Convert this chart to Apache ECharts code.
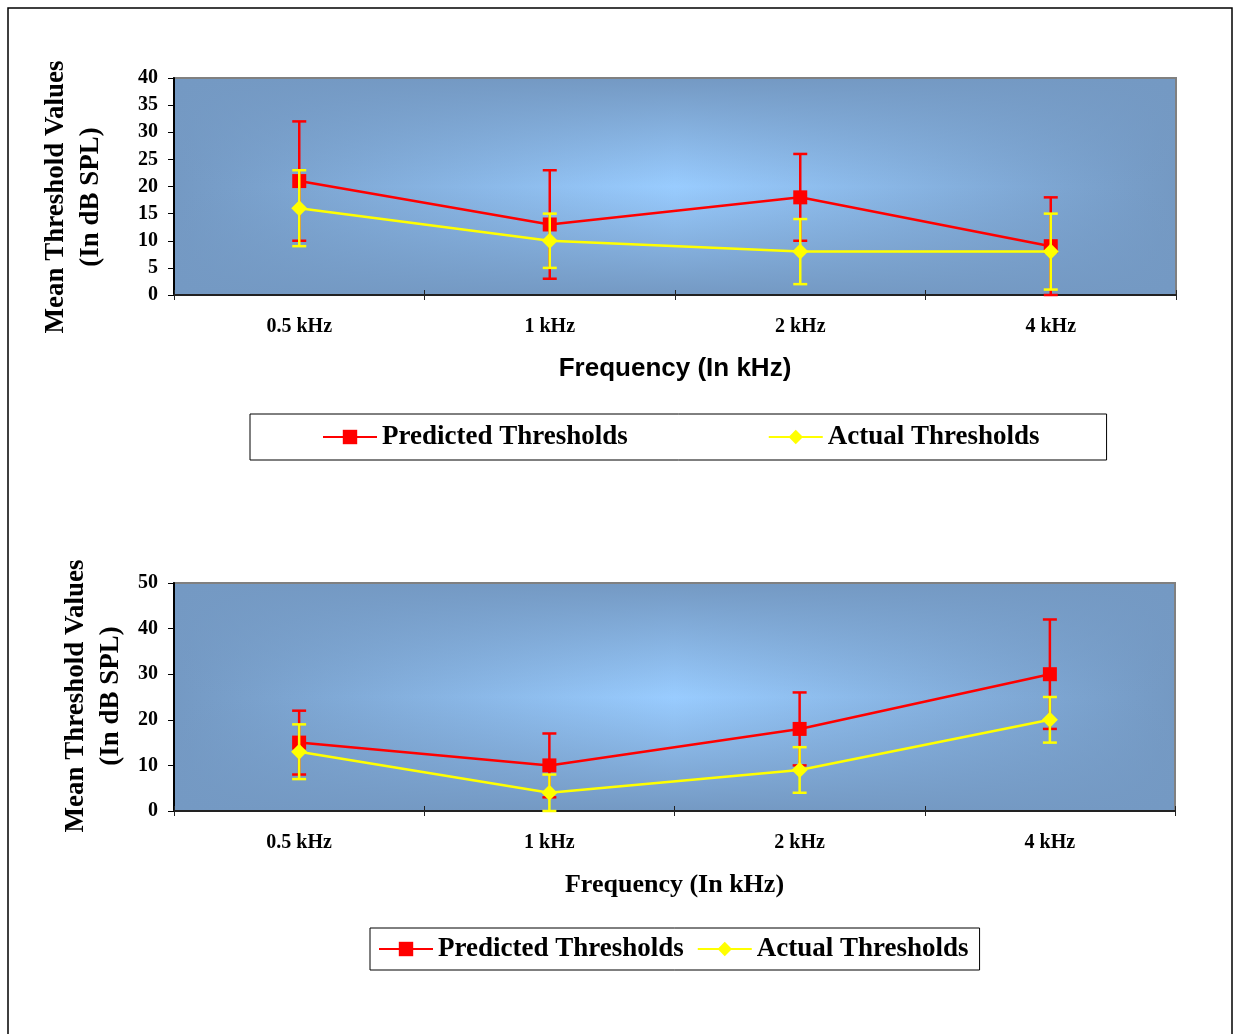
<!DOCTYPE html>
<html><head><meta charset="utf-8">
<script src="https://cdn.jsdelivr.net/npm/echarts@6/dist/echarts.min.js"></script>
<style>html,body{margin:0;padding:0;background:#fff}#c{width:1233px;height:1034px}</style>
</head><body><div id="c"></div>
<script>
const categories = ['0.5 kHz', '1 kHz', '2 kHz', '4 kHz'];
const seriesNames = ['Predicted Thresholds', 'Actual Thresholds'];

// Chart 1 (top)
const pred1 = [21, 13, 18, 9];
const pred1Low = [10, 3, 10, 0];
const pred1High = [32, 23, 26, 18];
const act1 = [16, 10, 8, 8];
const act1Low = [9, 5, 2, 1];
const act1High = [23, 15, 14, 15];
const yMin1 = 0, yMax1 = 40, yStep1 = 5;

// Chart 2 (bottom)
const pred2 = [15, 10, 18, 30];
const pred2Low = [8, 3, 10, 18];
const pred2High = [22, 17, 26, 42];
const act2 = [13, 4, 9, 20];
const act2Low = [7, 0, 4, 15];
const act2High = [19, 8, 14, 25];
const yMin2 = 0, yMax2 = 50, yStep2 = 10;

const xTitle = 'Frequency (In kHz)';
const yTitle = 'Mean Threshold Values\n(In dB SPL)';

const RED = '#FF0000', YEL = '#FFFF00';
const EDGE = '#7499C3', CENTER = '#99CCFF';
const serif = 'Liberation Serif, Times New Roman, serif';
const sans = 'Liberation Sans, Arial, sans-serif';
const LW = 2.5;

const G1 = {left: 174, top: 78, width: 1002, height: 217};
const G2 = {left: 174, top: 583, width: 1001, height: 228};

function errData(lo, hi) { return lo.map((v, i) => [i, v, hi[i]]); }

function errBar(color) {
  return function (params, api) {
    const i = api.value(0);
    const lo = api.coord([i, api.value(1)]);
    const hi = api.coord([i, api.value(2)]);
    const w = 7;
    const st = {stroke: color, lineWidth: LW};
    return {type: 'group', children: [
      {type: 'line', shape: {x1: lo[0], y1: lo[1], x2: hi[0], y2: hi[1]}, style: st},
      {type: 'line', shape: {x1: lo[0] - w, y1: lo[1], x2: lo[0] + w, y2: lo[1]}, style: st},
      {type: 'line', shape: {x1: hi[0] - w, y1: hi[1], x2: hi[0] + w, y2: hi[1]}, style: st}
    ]};
  };
}

function bgRects(g) {
  return [
    {type: 'rect', z: -10, shape: {x: g.left, y: g.top, width: g.width, height: g.height},
     style: {fill: new echarts.graphic.LinearGradient(0, 0, 1, 0, [
       {offset: 0, color: EDGE}, {offset: 0.5, color: CENTER}, {offset: 1, color: EDGE}])}},
    {type: 'rect', z: -9, shape: {x: g.left, y: g.top, width: g.width, height: g.height},
     style: {fill: new echarts.graphic.LinearGradient(0, 0, 0, 1, [
       {offset: 0, color: 'rgba(116,153,195,1)'}, {offset: 0.5, color: 'rgba(116,153,195,0)'},
       {offset: 1, color: 'rgba(116,153,195,1)'}])}},
    {type: 'rect', z: -8, shape: {x: g.left, y: g.top, width: g.width, height: g.height},
     style: {fill: 'none', stroke: '#808080', lineWidth: 2}}
  ];
}

function xAxes(gi, nameFont) {
  return [{
    type: 'category', gridIndex: gi, data: categories, position: 'bottom', boundaryGap: true,
    axisLine: {show: true, lineStyle: {color: '#222', width: 2}},
    axisTick: {show: true, interval: 0, length: 5, lineStyle: {color: '#222', width: 1}},
    axisLabel: {margin: 22, color: '#000', fontFamily: serif, fontWeight: 'bold', fontSize: 20},
    splitLine: {show: false},
    name: xTitle, nameLocation: 'middle', nameGap: 61,
    nameTextStyle: {color: '#000', fontFamily: nameFont, fontWeight: 'bold', fontSize: 26}
  }, {
    type: 'category', gridIndex: gi, data: categories, position: 'bottom', boundaryGap: true,
    axisLine: {show: false}, axisLabel: {show: false}, splitLine: {show: false},
    axisTick: {show: true, interval: 0, inside: true, length: 5, lineStyle: {color: '#222', width: 1}}
  }];
}

function yAxis(gi, mn, mx, step) {
  return {
    type: 'value', gridIndex: gi, min: mn, max: mx, interval: step,
    axisLine: {show: true, lineStyle: {color: '#000', width: 2}},
    axisTick: {show: true, length: 6, lineStyle: {color: '#000', width: 1}},
    axisLabel: {margin: 16, color: '#000', fontFamily: serif, fontWeight: 'bold', fontSize: 20,
                padding: [3, 0, 0, 0]},
    splitLine: {show: false}
  };
}

function lineSeries(name, data, color, sym, size, xi, yi, z) {
  return {
    type: 'line', name: name, data: data, xAxisIndex: xi, yAxisIndex: yi, z: z,
    symbol: sym, symbolSize: size, showSymbol: true,
    lineStyle: {color: color, width: LW}, itemStyle: {color: color},
    emphasis: {disabled: true}, animation: false
  };
}

function errSeries(lo, hi, color, xi, yi, z) {
  return {
    type: 'custom', data: errData(lo, hi), xAxisIndex: xi, yAxisIndex: yi, z: z,
    encode: {x: 0, y: [1, 2]}, renderItem: errBar(color), animation: false, silent: true
  };
}

const legendBase = {
  orient: 'horizontal', itemWidth: 54, itemHeight: 18,
  borderColor: '#000', borderWidth: 1, backgroundColor: '#fff',
  textStyle: {fontFamily: serif, fontWeight: 'bold', fontSize: 27, color: '#000', lineHeight: 32,
              padding: [4, 0, 0, 0]},
  data: seriesNames, selectedMode: false
};

const option = {
  animation: false,
  backgroundColor: '#fff',
  grid: [
    Object.assign({show: false, containLabel: false}, G1),
    Object.assign({show: false, containLabel: false}, G2)
  ],
  xAxis: [...xAxes(0, sans), ...xAxes(1, serif)],
  yAxis: [yAxis(0, yMin1, yMax1, yStep1), yAxis(1, yMin2, yMax2, yStep2)],
  legend: [
    Object.assign({}, legendBase, {left: 250, top: 414, padding: [5, 67, 5, 72], itemGap: 140}),
    Object.assign({}, legendBase, {left: 370, top: 928, padding: [3, 11, 3, 8], itemGap: 13})
  ],
  graphic: [
    {type: 'rect', z: -20, shape: {x: 8, y: 8, width: 1224, height: 1040},
     style: {fill: 'none', stroke: '#000', lineWidth: 1.5}},
    ...bgRects(G1), ...bgRects(G2),
    {type: 'text', x: 74, y: 197, rotation: Math.PI / 2,
     style: {text: yTitle, align: 'center', verticalAlign: 'middle', lineHeight: 35,
             fontFamily: serif, fontWeight: 'bold', fontSize: 27, fill: '#000'}},
    {type: 'text', x: 94, y: 696, rotation: Math.PI / 2,
     style: {text: yTitle, align: 'center', verticalAlign: 'middle', lineHeight: 35,
             fontFamily: serif, fontWeight: 'bold', fontSize: 27, fill: '#000'}}
  ],
  series: [
    errSeries(pred1Low, pred1High, RED, 0, 0, 2),
    lineSeries(seriesNames[0], pred1, RED, 'rect', 14, 0, 0, 3),
    errSeries(act1Low, act1High, YEL, 0, 0, 4),
    lineSeries(seriesNames[1], act1, YEL, 'diamond', 16, 0, 0, 5),
    errSeries(pred2Low, pred2High, RED, 2, 1, 2),
    lineSeries(seriesNames[0], pred2, RED, 'rect', 14, 2, 1, 3),
    errSeries(act2Low, act2High, YEL, 2, 1, 4),
    lineSeries(seriesNames[1], act2, YEL, 'diamond', 16, 2, 1, 5)
  ]
};

const chart = echarts.init(document.getElementById('c'), null, {renderer: 'canvas'});
chart.setOption(option);
</script>
</body></html>
